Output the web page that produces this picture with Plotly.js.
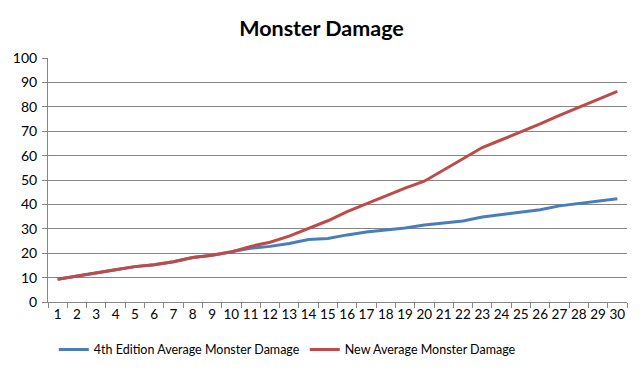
<!DOCTYPE html>
<html><head><meta charset="utf-8">
<script src="https://cdn.plot.ly/plotly-3.0.1.min.js"></script>
<style>html,body{margin:0;padding:0;background:#fff}#c{width:643px;height:378px}</style>
</head><body><div id="c"></div>
<script>
const levels = ["1","2","3","4","5","6","7","8","9","10","11","12","13","14","15","16","17","18","19","20","21","22","23","24","25","26","27","28","29","30"];
const edition4 = [9.3,10.5,11.7,13.2,14.5,15.3,16.5,18.2,19.2,20.5,22.0,22.8,24.0,25.6,26.0,27.5,28.7,29.5,30.3,31.6,32.3,33.2,34.8,35.8,37.0,37.8,39.4,40.3,41.5,42.3];
const newDamage = [9.3,10.5,11.7,13.2,14.5,15.3,16.5,18.2,19.2,20.5,22.8,24.5,27.0,30.0,33.3,37.0,40.3,43.3,46.7,49.5,54.2,58.8,63.3,66.5,69.7,73.0,76.5,79.7,83.0,86.3];
const yTicks = [0,10,20,30,40,50,60,70,80,90,100];
const fnt = "Lato, 'Open Sans', sans-serif";
const traces = [
 {x: levels, y: edition4, type:'scatter', mode:'lines', name:'4th Edition Average Monster Damage', line:{color:'#4a7ebb', width:3}},
 {x: levels, y: newDamage, type:'scatter', mode:'lines', name:'New Average Monster Damage', line:{color:'#be4b48', width:3}}
];
const layout = {
 width:643, height:378,
 margin:{l:48, r:16, t:58, b:76},
 paper_bgcolor:'#fff', plot_bgcolor:'#fff',
 title:{text:'<b>Monster Damage</b>', x:0.5, xanchor:'center', y:0.925, yanchor:'middle', font:{family:fnt, size:21.5, color:'#000'}},
 font:{family:fnt, size:13.5, color:'#000'},
 xaxis:{type:'category', tickson:'boundaries', tickangle:0, automargin:false, ticks:'outside', ticklen:5, tickcolor:'#868686', showline:true, linecolor:'#868686', linewidth:1, showgrid:false, zeroline:false, range:[-0.5,29.5], tickfont:{size:13.5}},
 yaxis:{range:[0,100], automargin:false, tickvals:yTicks, ticks:'outside', ticklen:5, tickcolor:'#868686', showline:true, linecolor:'#868686', showgrid:true, gridcolor:'#868686', gridwidth:1, zeroline:false, tickfont:{size:14}, ticklabelstandoff:2},
 showlegend:true,
 legend:{orientation:'h', x:0.01, xanchor:'left', y:-0.135, yanchor:'top', font:{size:12.5}, itemwidth:30, traceorder:'normal'}
};
Plotly.newPlot('c', traces, layout, {displayModeBar:false, staticPlot:true});
</script></body></html>
